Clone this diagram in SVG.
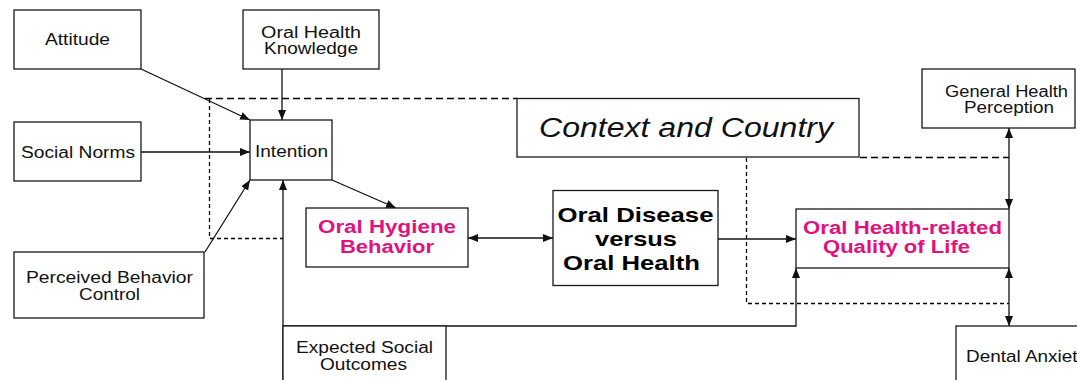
<svg xmlns="http://www.w3.org/2000/svg" width="1077" height="380" viewBox="0 0 1077 380">
<style>
  .box{fill:#fff;stroke:#1a1a1a;stroke-width:1.3}
  .t{font-family:"Liberation Sans",Arial,sans-serif;font-size:16px;fill:#111;text-anchor:middle}
  .tb{font-family:"Liberation Sans",Arial,sans-serif;font-size:21px;font-weight:bold;fill:#000;text-anchor:middle}
  .tp{font-family:"Liberation Sans",Arial,sans-serif;font-size:17.5px;font-weight:bold;fill:#e2117d;text-anchor:middle}
  .ti{font-family:"Liberation Sans",Arial,sans-serif;font-size:27px;font-style:italic;fill:#111;text-anchor:middle}
  .c{fill:none;stroke:#111;stroke-width:1.3}
  .d{fill:none;stroke:#000;stroke-width:1.3;stroke-dasharray:7,4}
  .dv{fill:none;stroke:#000;stroke-width:1.3;stroke-dasharray:4,3}
</style>
<defs>
  <marker id="ah" markerUnits="userSpaceOnUse" markerWidth="10" markerHeight="10" viewBox="0 0 10 10" refX="10" refY="5" orient="auto-start-reverse">
    <path d="M0,1 L10,5 L0,9 Z" fill="#111"/>
  </marker>
</defs>
<rect width="1077" height="380" fill="#fff"/>

<g id="connectors">
  <path class="d" d="M205,98.5 H517"/>
  <path class="dv" d="M209.5,99 V238.5 H283"/>
  <path class="d" d="M860,157.5 H1009"/>
  <path class="dv" d="M746.5,158 V303.5 H1009"/>
  <line class="c" x1="141" y1="69" x2="250" y2="120" marker-end="url(#ah)"/>
  <line class="c" x1="282" y1="69" x2="282" y2="120" marker-end="url(#ah)"/>
  <line class="c" x1="141" y1="152" x2="250" y2="152" marker-end="url(#ah)"/>
  <line class="c" x1="205" y1="252" x2="250" y2="180" marker-end="url(#ah)"/>
  <line class="c" x1="283" y1="385" x2="283" y2="180" marker-end="url(#ah)"/>
  <path class="c" d="M283,326 H796 V268" marker-end="url(#ah)"/>
  <line class="c" x1="332" y1="180" x2="396" y2="208" marker-end="url(#ah)"/>
  <line class="c" x1="468" y1="238" x2="553" y2="238" marker-start="url(#ah)" marker-end="url(#ah)"/>
  <line class="c" x1="718" y1="239" x2="796" y2="239" marker-end="url(#ah)"/>
  <line class="c" x1="1009" y1="128" x2="1009" y2="209" marker-start="url(#ah)" marker-end="url(#ah)"/>
  <line class="c" x1="1009" y1="268" x2="1009" y2="326" marker-start="url(#ah)" marker-end="url(#ah)"/>
</g>

<g id="attitude">
  <rect class="box" x="14" y="10" width="127" height="59"/>
  <text class="t" x="77.5" y="45" textLength="65" lengthAdjust="spacingAndGlyphs">Attitude</text>
</g>
<g id="knowledge">
  <rect class="box" x="243" y="10" width="136" height="59"/>
  <text class="t" x="311" y="38" textLength="100" lengthAdjust="spacingAndGlyphs">Oral Health</text>
  <text class="t" x="311" y="54" textLength="94" lengthAdjust="spacingAndGlyphs">Knowledge</text>
</g>
<g id="social-norms">
  <rect class="box" x="14" y="122" width="127" height="59"/>
  <text class="t" x="78" y="158" textLength="114" lengthAdjust="spacingAndGlyphs">Social Norms</text>
</g>
<g id="intention">
  <rect class="box" x="250" y="120" width="82" height="60"/>
  <text class="t" x="291.5" y="157" textLength="73" lengthAdjust="spacingAndGlyphs">Intention</text>
</g>
<g id="pbc">
  <rect class="box" x="14" y="252" width="190" height="66"/>
  <text class="t" x="109.5" y="283" textLength="167" lengthAdjust="spacingAndGlyphs">Perceived Behavior</text>
  <text class="t" x="109.5" y="300" textLength="61" lengthAdjust="spacingAndGlyphs">Control</text>
</g>
<g id="expected-social">
  <rect class="box" x="283" y="326" width="163" height="64"/>
  <text class="t" x="364.5" y="353" textLength="137" lengthAdjust="spacingAndGlyphs">Expected Social</text>
  <text class="t" x="363.5" y="370" textLength="87" lengthAdjust="spacingAndGlyphs">Outcomes</text>
</g>
<g id="context">
  <rect class="box" x="517" y="98.5" width="342" height="58.5"/>
  <text class="ti" x="686" y="137" textLength="294" lengthAdjust="spacingAndGlyphs">Context and Country</text>
</g>
<g id="hygiene">
  <rect class="box" x="306" y="208" width="162" height="59"/>
  <text class="tp" x="387" y="233" textLength="138" lengthAdjust="spacingAndGlyphs">Oral Hygiene</text>
  <text class="tp" x="387" y="253" textLength="94" lengthAdjust="spacingAndGlyphs">Behavior</text>
</g>
<g id="disease">
  <rect class="box" x="553" y="190.5" width="165" height="95"/>
  <text class="tb" x="635.5" y="222" textLength="156" lengthAdjust="spacingAndGlyphs">Oral Disease</text>
  <text class="tb" x="636" y="246" textLength="82" lengthAdjust="spacingAndGlyphs">versus</text>
  <text class="tb" x="631.5" y="269.5" textLength="137" lengthAdjust="spacingAndGlyphs">Oral Health</text>
</g>
<g id="qol">
  <rect class="box" x="796" y="209" width="213" height="59"/>
  <text class="tp" x="902.5" y="233.5" textLength="199" lengthAdjust="spacingAndGlyphs">Oral Health-related</text>
  <text class="tp" x="896.5" y="253" textLength="147" lengthAdjust="spacingAndGlyphs">Quality of Life</text>
</g>
<g id="general-health">
  <rect class="box" x="922" y="69" width="153" height="59"/>
  <text class="t" x="1006.5" y="96.5" textLength="123" lengthAdjust="spacingAndGlyphs">General Health</text>
  <text class="t" x="1009" y="113" textLength="90" lengthAdjust="spacingAndGlyphs">Perception</text>
</g>
<g id="dental-anxiety">
  <rect class="box" x="956" y="326" width="140" height="64"/>
  <text class="t" x="966" y="362" style="text-anchor:start" textLength="121" lengthAdjust="spacingAndGlyphs">Dental Anxiety</text>
</g>
</svg>
